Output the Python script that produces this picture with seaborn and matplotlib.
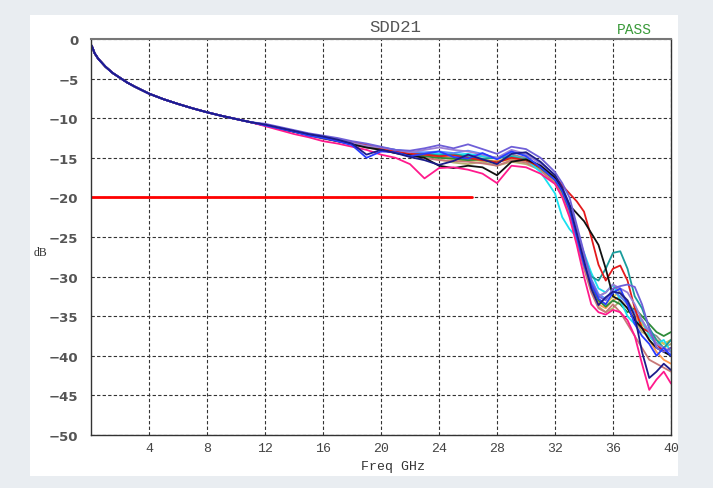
import matplotlib
matplotlib.use("Agg")
import matplotlib.pyplot as plt
from matplotlib.patches import Rectangle
import seaborn as sns
import pandas as pd

# ---------------- data ----------------
f_head = [0.05, 0.25, 0.5, 0.75, 1, 1.5, 2, 2.5, 3, 4, 5, 6, 7, 8, 9, 10, 11]
db_head = [-0.85, -1.8, -2.5, -3.0, -3.5, -4.3, -4.9, -5.5, -6.0, -6.9, -7.6,
           -8.2, -8.75, -9.25, -9.7, -10.1, -10.5]

f_tail = [12, 13, 14, 15, 16, 17, 18, 19, 20, 21, 22, 23, 24, 25, 26, 27, 28,
          29, 30, 31, 32, 32.5, 33, 33.5, 34, 34.5, 35, 35.5, 36, 36.5, 37,
          37.5, 38, 38.5, 39, 39.5, 40]

trace_navy = [-10.8, -11.2, -11.6, -12.0, -12.3, -12.7, -13.2, -14.6, -14.0, -14.4, -14.9, -15.3, -15.9, -15.4, -14.6, -15.2, -15.8, -14.5, -14.3, -15.5, -17.2, -18.8, -21.0, -24.5, -28.0, -31.5, -33.6, -32.6, -31.9, -32.1, -33.0, -35.0, -39.5, -42.8, -42.0, -41.0, -41.8]
trace_blue = [-10.9, -11.3, -11.7, -12.2, -12.5, -12.9, -13.4, -15.0, -14.2, -14.3, -14.8, -14.5, -14.2, -14.9, -15.1, -14.4, -15.2, -14.2, -14.8, -16.2, -17.8, -19.2, -21.5, -25.0, -28.5, -31.0, -32.8, -33.5, -32.0, -31.5, -33.5, -36.0, -37.5, -38.5, -40.0, -39.0, -40.0]
trace_purple = [-10.7, -11.1, -11.5, -11.9, -12.2, -12.5, -12.9, -13.2, -13.6, -14.0, -14.1, -13.8, -13.4, -13.8, -13.3, -13.9, -14.5, -13.6, -13.9, -15.0, -16.8, -18.2, -20.0, -23.5, -27.0, -30.5, -32.5, -33.0, -31.5, -31.2, -31.0, -31.3, -33.5, -36.5, -39.0, -39.5, -39.0]
trace_pink = [-11.0, -11.5, -12.0, -12.4, -12.9, -13.2, -13.6, -14.0, -14.6, -15.0, -15.8, -17.6, -16.3, -16.2, -16.5, -17.0, -18.2, -16.0, -16.2, -17.0, -18.3, -20.0, -22.5, -26.0, -30.0, -33.5, -34.5, -34.8, -34.2, -34.5, -35.5, -37.5, -41.0, -44.3, -43.0, -42.0, -43.5]
trace_red = [-10.9, -11.3, -11.6, -12.0, -12.4, -12.8, -13.0, -13.4, -13.8, -14.2, -14.5, -14.6, -14.8, -14.7, -15.0, -15.3, -15.6, -15.0, -15.3, -16.2, -17.4, -18.5, -19.5, -20.5, -21.8, -25.0, -28.5, -30.5, -29.0, -28.6, -30.5, -34.0, -36.5, -37.0, -38.5, -39.5, -39.0]
trace_cyan = [-10.8, -11.2, -11.6, -12.0, -12.4, -12.7, -13.0, -13.4, -13.7, -14.0, -14.2, -14.4, -14.5, -14.6, -14.5, -14.8, -15.0, -14.8, -15.2, -16.8, -19.5, -22.5, -24.0, -25.0, -27.0, -29.5, -31.5, -32.0, -31.0, -33.0, -35.0, -36.0, -35.5, -37.5, -38.5, -38.0, -39.5]
trace_teal = [-10.9, -11.3, -11.7, -12.1, -12.5, -12.8, -13.1, -13.5, -13.8, -14.1, -14.3, -14.5, -14.7, -14.5, -14.9, -15.1, -15.0, -14.9, -15.2, -16.0, -17.6, -19.0, -21.0, -24.0, -27.5, -30.0, -30.5, -29.0, -27.0, -26.8, -29.0, -32.5, -34.0, -36.5, -38.0, -39.0, -38.0]
trace_green = [-10.9, -11.3, -11.7, -12.1, -12.5, -12.9, -13.2, -13.6, -13.9, -14.3, -14.6, -14.8, -15.0, -15.1, -15.3, -15.2, -15.6, -14.8, -15.3, -16.3, -17.8, -19.3, -21.5, -24.5, -28.0, -31.0, -33.0, -33.8, -33.0, -33.5, -34.5, -34.0, -35.0, -36.0, -37.0, -37.5, -37.0]
trace_olive = [-10.8, -11.2, -11.6, -12.0, -12.4, -12.7, -13.0, -13.4, -13.7, -14.1, -14.4, -14.6, -15.2, -15.6, -15.8, -15.5, -16.0, -15.5, -15.8, -16.5, -18.0, -19.5, -21.8, -25.0, -28.5, -31.5, -33.8, -34.5, -34.0, -33.0, -34.0, -35.5, -37.0, -37.5, -38.5, -39.0, -38.5]
trace_gray = [-10.9, -11.3, -11.7, -12.1, -12.4, -12.8, -13.1, -13.5, -13.8, -14.1, -14.4, -14.5, -14.6, -14.6, -14.7, -14.8, -15.0, -14.6, -15.0, -16.0, -17.5, -19.0, -21.2, -24.2, -27.5, -30.5, -32.5, -32.0, -31.0, -32.0, -33.5, -35.0, -36.0, -37.0, -37.5, -38.5, -38.0]
trace_black = [-10.9, -11.3, -11.7, -12.1, -12.5, -12.9, -13.3, -13.7, -14.0, -14.4, -14.7, -15.0, -16.0, -16.3, -16.0, -16.2, -17.2, -15.5, -15.2, -16.0, -17.5, -19.0, -21.0, -22.0, -23.0, -24.5, -26.0, -29.0, -32.5, -33.0, -34.0, -35.5, -36.5, -38.0, -39.0, -39.5, -40.0]
trace_orange = [-10.9, -11.3, -11.7, -12.1, -12.5, -12.8, -13.2, -13.6, -13.9, -14.2, -14.5, -14.7, -14.9, -15.0, -15.2, -15.3, -15.4, -15.0, -15.5, -16.5, -18.0, -19.6, -22.0, -25.0, -28.5, -31.5, -33.5, -34.0, -33.0, -32.5, -33.5, -35.0, -36.5, -38.0, -39.5, -40.5, -41.0]
trace_lavender = [-10.8, -11.2, -11.6, -12.0, -12.4, -12.7, -13.1, -13.5, -13.7, -14.0, -14.3, -14.0, -13.7, -14.0, -14.2, -14.6, -15.0, -14.0, -14.5, -15.8, -17.5, -19.0, -21.0, -24.0, -27.5, -31.0, -32.5, -32.0, -31.0, -31.5, -32.0, -33.5, -35.5, -37.0, -38.5, -39.0, -39.5]
trace_rosy = [-10.9, -11.3, -11.7, -12.2, -12.6, -12.9, -13.3, -13.7, -14.0, -14.4, -14.7, -15.0, -15.3, -15.4, -15.5, -15.7, -16.0, -15.3, -15.6, -16.6, -18.2, -19.8, -22.0, -25.5, -29.0, -32.0, -34.0, -34.5, -33.5, -34.5, -36.0, -37.5, -39.0, -40.5, -41.0, -41.5, -42.0]
trace_yellow = [-10.9, -11.3, -11.7, -12.1, -12.4, -12.8, -13.1, -13.4, -13.8, -14.1, -14.4, -14.6, -14.9, -15.2, -15.4, -15.3, -15.5, -15.2, -15.4, -16.3, -17.8, -19.4, -21.5, -24.8, -28.2, -31.2, -33.2, -33.5, -32.5, -32.0, -33.0, -34.5, -36.0, -37.0, -38.0, -38.5, -38.0]
trace_lightblue = [-10.8, -11.2, -11.6, -12.0, -12.3, -12.7, -13.0, -13.3, -13.7, -14.0, -14.3, -14.3, -14.2, -14.4, -14.1, -14.5, -15.1, -14.3, -14.6, -15.6, -17.2, -18.7, -20.8, -23.8, -27.2, -30.3, -32.2, -32.8, -31.8, -32.5, -33.5, -34.5, -35.5, -37.0, -38.5, -39.5, -39.8]

trace_names = ["olive", "gray", "yellow", "orange", "rosy", "green", "cyan",
               "teal", "lightblue", "red", "lavender", "black", "pink",
               "purple", "blue", "navy"]
trace_values = {
    "navy": trace_navy, "blue": trace_blue, "purple": trace_purple,
    "pink": trace_pink, "red": trace_red, "cyan": trace_cyan,
    "teal": trace_teal, "green": trace_green, "olive": trace_olive,
    "gray": trace_gray, "black": trace_black, "orange": trace_orange,
    "lavender": trace_lavender, "rosy": trace_rosy, "yellow": trace_yellow,
    "lightblue": trace_lightblue,
}
trace_colors = {
    "navy": "#1c1c8a", "blue": "#2a3cff", "purple": "#6f5fd8",
    "pink": "#ff1a8c", "red": "#e41a1c", "cyan": "#19e0f0",
    "teal": "#1a9c9c", "green": "#2e8b3a", "olive": "#b8b070",
    "gray": "#909090", "black": "#111111", "orange": "#ff9a50",
    "lavender": "#9b7fd4", "rosy": "#c87878", "yellow": "#d9c94a",
    "lightblue": "#5a8cff",
}

limit_freq = [0, 26.3]
limit_db = [-20, -20]

x_ticks = [4, 8, 12, 16, 20, 24, 28, 32, 36, 40]
y_ticks = [0, -5, -10, -15, -20, -25, -30, -35, -40, -45, -50]

# ---------------- build table ----------------
rows = []
for name in trace_names:
    freqs = f_head + f_tail
    vals = db_head + trace_values[name]
    for f, v in zip(freqs, vals):
        rows.append({"trace": name, "freq": f, "db": v})
df = pd.DataFrame(rows)

# ---------------- figure ----------------
sns.set_theme(style="white")
plt.rcParams["font.family"] = ["DejaVu Sans"]

W, H = 713, 489
fig = plt.figure(figsize=(W / 100, H / 100), dpi=100, facecolor="#e9edf1")
fig.patches.append(Rectangle((30 / W, 1 - 477 / H), (678 - 30) / W, (477 - 16) / H,
                             transform=fig.transFigure, facecolor="white",
                             edgecolor="none", zorder=-10))

ax = fig.add_axes([91 / W, 1 - 436 / H, 580 / W, 396 / H])
ax.set_zorder(5)
ax.set_facecolor("white")

sns.lineplot(data=df, x="freq", y="db", hue="trace", palette=trace_colors,
             hue_order=trace_names, sort=False, estimator=None, legend=False,
             linewidth=1.3, ax=ax)
sns.lineplot(x=limit_freq, y=limit_db, color="#ff0000", linewidth=2.0, ax=ax)

ax.set_xlim(0, 40)
ax.set_ylim(-50, 0)
ax.set_xticks(x_ticks)
ax.set_yticks(y_ticks)
ax.set_xticklabels([str(t) for t in x_ticks], family="Liberation Mono",
                   fontsize=9.5, color="#444444")
ax.set_yticklabels([str(t).replace("-", "\u2212") for t in y_ticks],
                   fontsize=9.5, color="#555555", fontweight="bold")
ax.tick_params(axis="both", length=0)
ax.tick_params(axis="y", pad=9)
ax.tick_params(axis="x", pad=5)
ax.grid(True, color="#333333", linestyle=(0, (3, 2)), linewidth=0.8)
ax.set_axisbelow(True)
for side in ["left", "bottom", "right"]:
    ax.spines[side].set_color("#333333")
    ax.spines[side].set_linewidth(1.0)
ax.spines["top"].set_color("#777777")
ax.spines["top"].set_linewidth(1.5)
ax.set_xlabel("")
ax.set_ylabel("")

fig.text(395 / W, 1 - 27 / H, "SDD21", family="Liberation Mono", fontsize=12.5,
         color="#555555", ha="center", va="center")
fig.text(634 / W, 1 - 30 / H, "PASS", family="Liberation Mono", fontsize=10.5,
         color="#3a9a3a", ha="center", va="center")
fig.text(393 / W, 1 - 467 / H, "Freq GHz", family="Liberation Mono", fontsize=9.5,
         color="#333333", ha="center", va="center")
fig.text(40 / W, 1 - 253 / H, "dB", family="Liberation Serif", fontsize=8.5,
         color="#333333", ha="center", va="center")

fig.savefig("out.png", dpi=100, facecolor=fig.get_facecolor())
